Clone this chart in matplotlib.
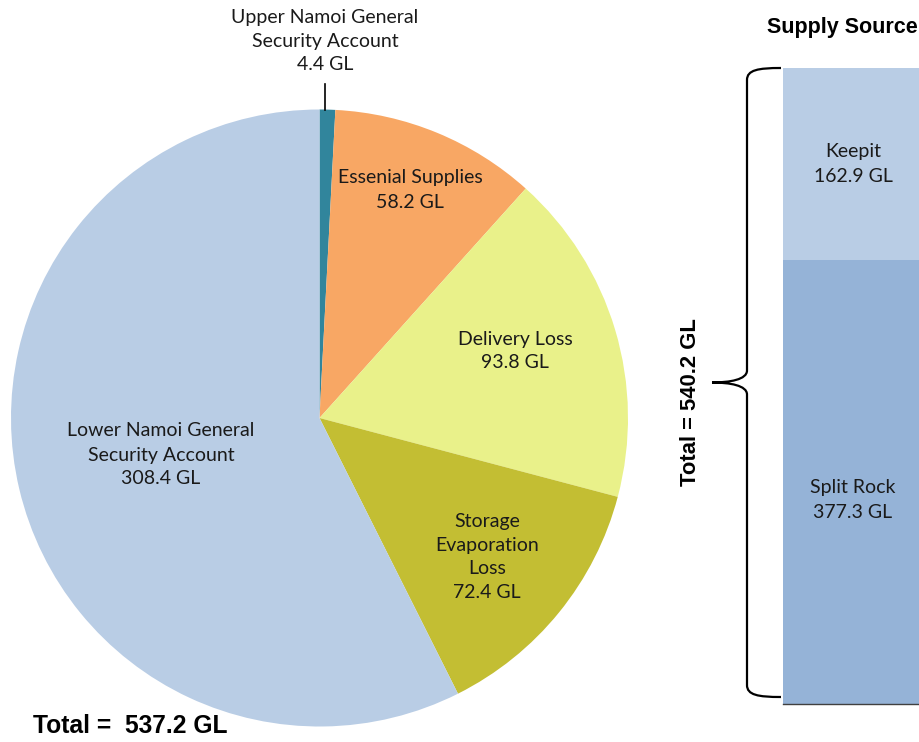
import matplotlib
matplotlib.use('Agg')
import matplotlib.pyplot as plt
from matplotlib.path import Path
from matplotlib.patches import PathPatch

# pie: water use (GL)
use_labels = ['Upper Namoi General\nSecurity Account', 'Essenial Supplies', 'Delivery Loss',
              'Storage\nEvaporation\nLoss', 'Lower Namoi General\nSecurity Account']
use_values = [4.4, 58.2, 93.8, 72.4, 308.4]
use_colors = ['#31859C', '#F8A764', '#E9F18A', '#C3BE33', '#B9CDE5']

# bar: supply source (GL)
src_labels = ['Split Rock', 'Keepit']
src_values = [377.3, 162.9]
src_colors = ['#95B3D7', '#B9CDE5']

W, H = 919, 742
fig = plt.figure(figsize=(W / 100, H / 100), dpi=100)

# stacked bar on its own axes (drawn underneath the main axes)
bx = fig.add_axes([783 / W, (H - 704) / H, 300 / W, 636 / H])
bx.set_zorder(0)
bottom = 0
for lab, v, c in zip(src_labels, src_values, src_colors):
    bx.bar(0, v, bottom=bottom, width=1, color=c, align='edge', linewidth=0)
    bottom += v
bx.set_xlim(0, 1)
bx.set_ylim(0, sum(src_values))
for s in ['top', 'right', 'left']:
    bx.spines[s].set_visible(False)
bx.spines['bottom'].set_color('#404040')
bx.spines['bottom'].set_linewidth(1.0)
bx.set_xticks([])
bx.set_yticks([])
bx.patch.set_alpha(0)

ax = fig.add_axes([0, 0, 1, 1])
ax.set_zorder(1)

lab_font = dict(family=['Lato', 'DejaVu Sans'], fontsize=14, color='#1a1a1a',
                ha='center', va='center', linespacing=1.5)
bold_font = dict(family=['Liberation Sans', 'DejaVu Sans'], fontweight='bold', color='black')

# pie in pixel coords (y flipped)
cx, cy, r = 319.5, H - 418, 308.5
ax.pie(use_values, colors=use_colors, startangle=90, counterclock=False,
       center=(cx, cy), radius=r, wedgeprops=dict(linewidth=0), frame=True)
ax.set_xlim(0, W)
ax.set_ylim(0, H)
ax.set_aspect('auto')
ax.axis('off')

pos = [(325, 41), (410, 190), (515, 351), (487, 557), (161, 455)]
for lab, v, (x, y) in zip(use_labels, use_values, pos):
    ax.text(x, H - y, f'{lab}\n{v:.1f} GL', **lab_font)
ax.plot([325, 325], [H - 84, H - 110], color='black', lw=1.2)

ax.text(33, H - 726, 'Total =  %.1f GL' % sum(use_values), fontsize=17.7, ha='left', va='center', **bold_font)

ax.text(853, H - 164, f'{src_labels[1]}\n{src_values[1]:.1f} GL', **lab_font)
ax.text(853, H - 500, f'{src_labels[0]}\n{src_values[0]:.1f} GL', **lab_font)
ax.text(842, H - 27, 'Supply Source', fontsize=15.5, ha='center', va='center', **bold_font)
ax.text(690, H - 402, 'Total = %.1f GL' % sum(src_values), fontsize=15.8, rotation=90,
        ha='center', va='center', **bold_font)

# curly brace
yt, yb = H - 68, H - 697
ym = (yt + yb) / 2
xv, xr, xt = 747, 781, 712
verts = [(xr, yt), (758, yt), (xv, yt - 2), (xv, yt - 12),
         (xv, ym + 12),
         (xv, ym + 3), (730, ym), (xt, ym),
         (730, ym), (xv, ym - 3), (xv, ym - 12),
         (xv, yb + 12),
         (xv, yb + 2), (758, yb), (xr, yb)]
codes = [Path.MOVETO, Path.CURVE4, Path.CURVE4, Path.CURVE4,
         Path.LINETO,
         Path.CURVE4, Path.CURVE4, Path.CURVE4,
         Path.CURVE4, Path.CURVE4, Path.CURVE4,
         Path.LINETO,
         Path.CURVE4, Path.CURVE4, Path.CURVE4]
ax.add_patch(PathPatch(Path(verts, codes), fill=False, lw=1.6, color='black'))

fig.savefig('out.png', dpi=100)
